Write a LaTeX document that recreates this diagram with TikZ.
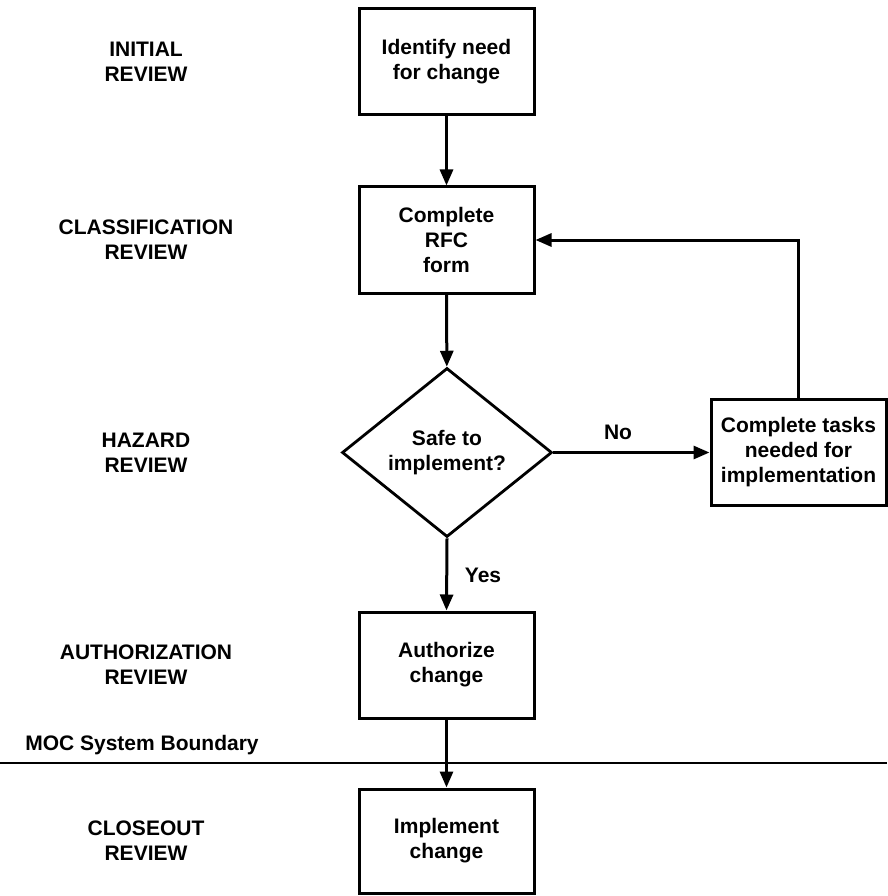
\documentclass[tikz,border=0pt]{standalone}
\usepackage{fontspec}
\setmainfont{Liberation Sans}
\usetikzlibrary{shapes.geometric,arrows.meta}
\begin{document}
\begin{tikzpicture}[x=1pt,y=-1pt,
  every node/.style={font=\fontsize{21}{25}\selectfont\bfseries, align=center, text=black},
  stepbox/.style={draw, line width=3pt, minimum width=175pt, minimum height=106pt, inner sep=0pt},
  decision/.style={draw, diamond, line width=2.8pt, minimum width=210pt, minimum height=169pt, inner sep=0pt},
  flow/.style={line width=3pt, -{Triangle[length=16pt,width=13pt]}},
  plain/.style={line width=2.4pt},
]
% canvas
\fill[white] (0,0) rectangle (887,896);
\useasboundingbox (0,0) rectangle (887,896);

% review stages
\node (s1) at (146,62)    {INITIAL\\REVIEW};
\node (s2) at (146,240)   {CLASSIFICATION\\REVIEW};
\node (s3) at (146,452.5) {HAZARD\\REVIEW};
\node (s4) at (146,665)   {AUTHORIZATION\\REVIEW};
\node (s5) at (146,841)   {CLOSEOUT\\REVIEW};

% process steps
\node[stepbox] (b1) at (446.5,62)    {Identify need\\for change};
\node[stepbox] (b2) at (446.5,240)   {Complete\\RFC\\form};
\node[decision] (d) at (447,452.5)   {Safe to\\implement?};
\node[stepbox] (b3) at (798.5,452.5) {Complete tasks\\needed for\\implementation};
\node[stepbox] (b4) at (446.5,665)   {Authorize\\change};
\node[stepbox, minimum height=104pt] (b5) at (446.5,841) {Implement\\change};

% system boundary
\coordinate (bl) at (0,763);
\coordinate (br) at (887,763);
\draw[plain] (bl) -- (br);
\node (moc) at (142,745) {MOC System Boundary};

% connectors
\draw[flow] (b1) -- (b2);
\draw[flow] (b2) -- (d);
\draw[flow] (d.east) -- (b3.west);
\draw[flow] (b3.north) |- (b2.east);
\draw[flow] (d.south) -- (b4.north);
\draw[flow] (b4) -- (b5);

% branch labels
\node (no) at (618,432) {No};
\node (yes) at (483,575) {Yes};
\end{tikzpicture}
\end{document}
